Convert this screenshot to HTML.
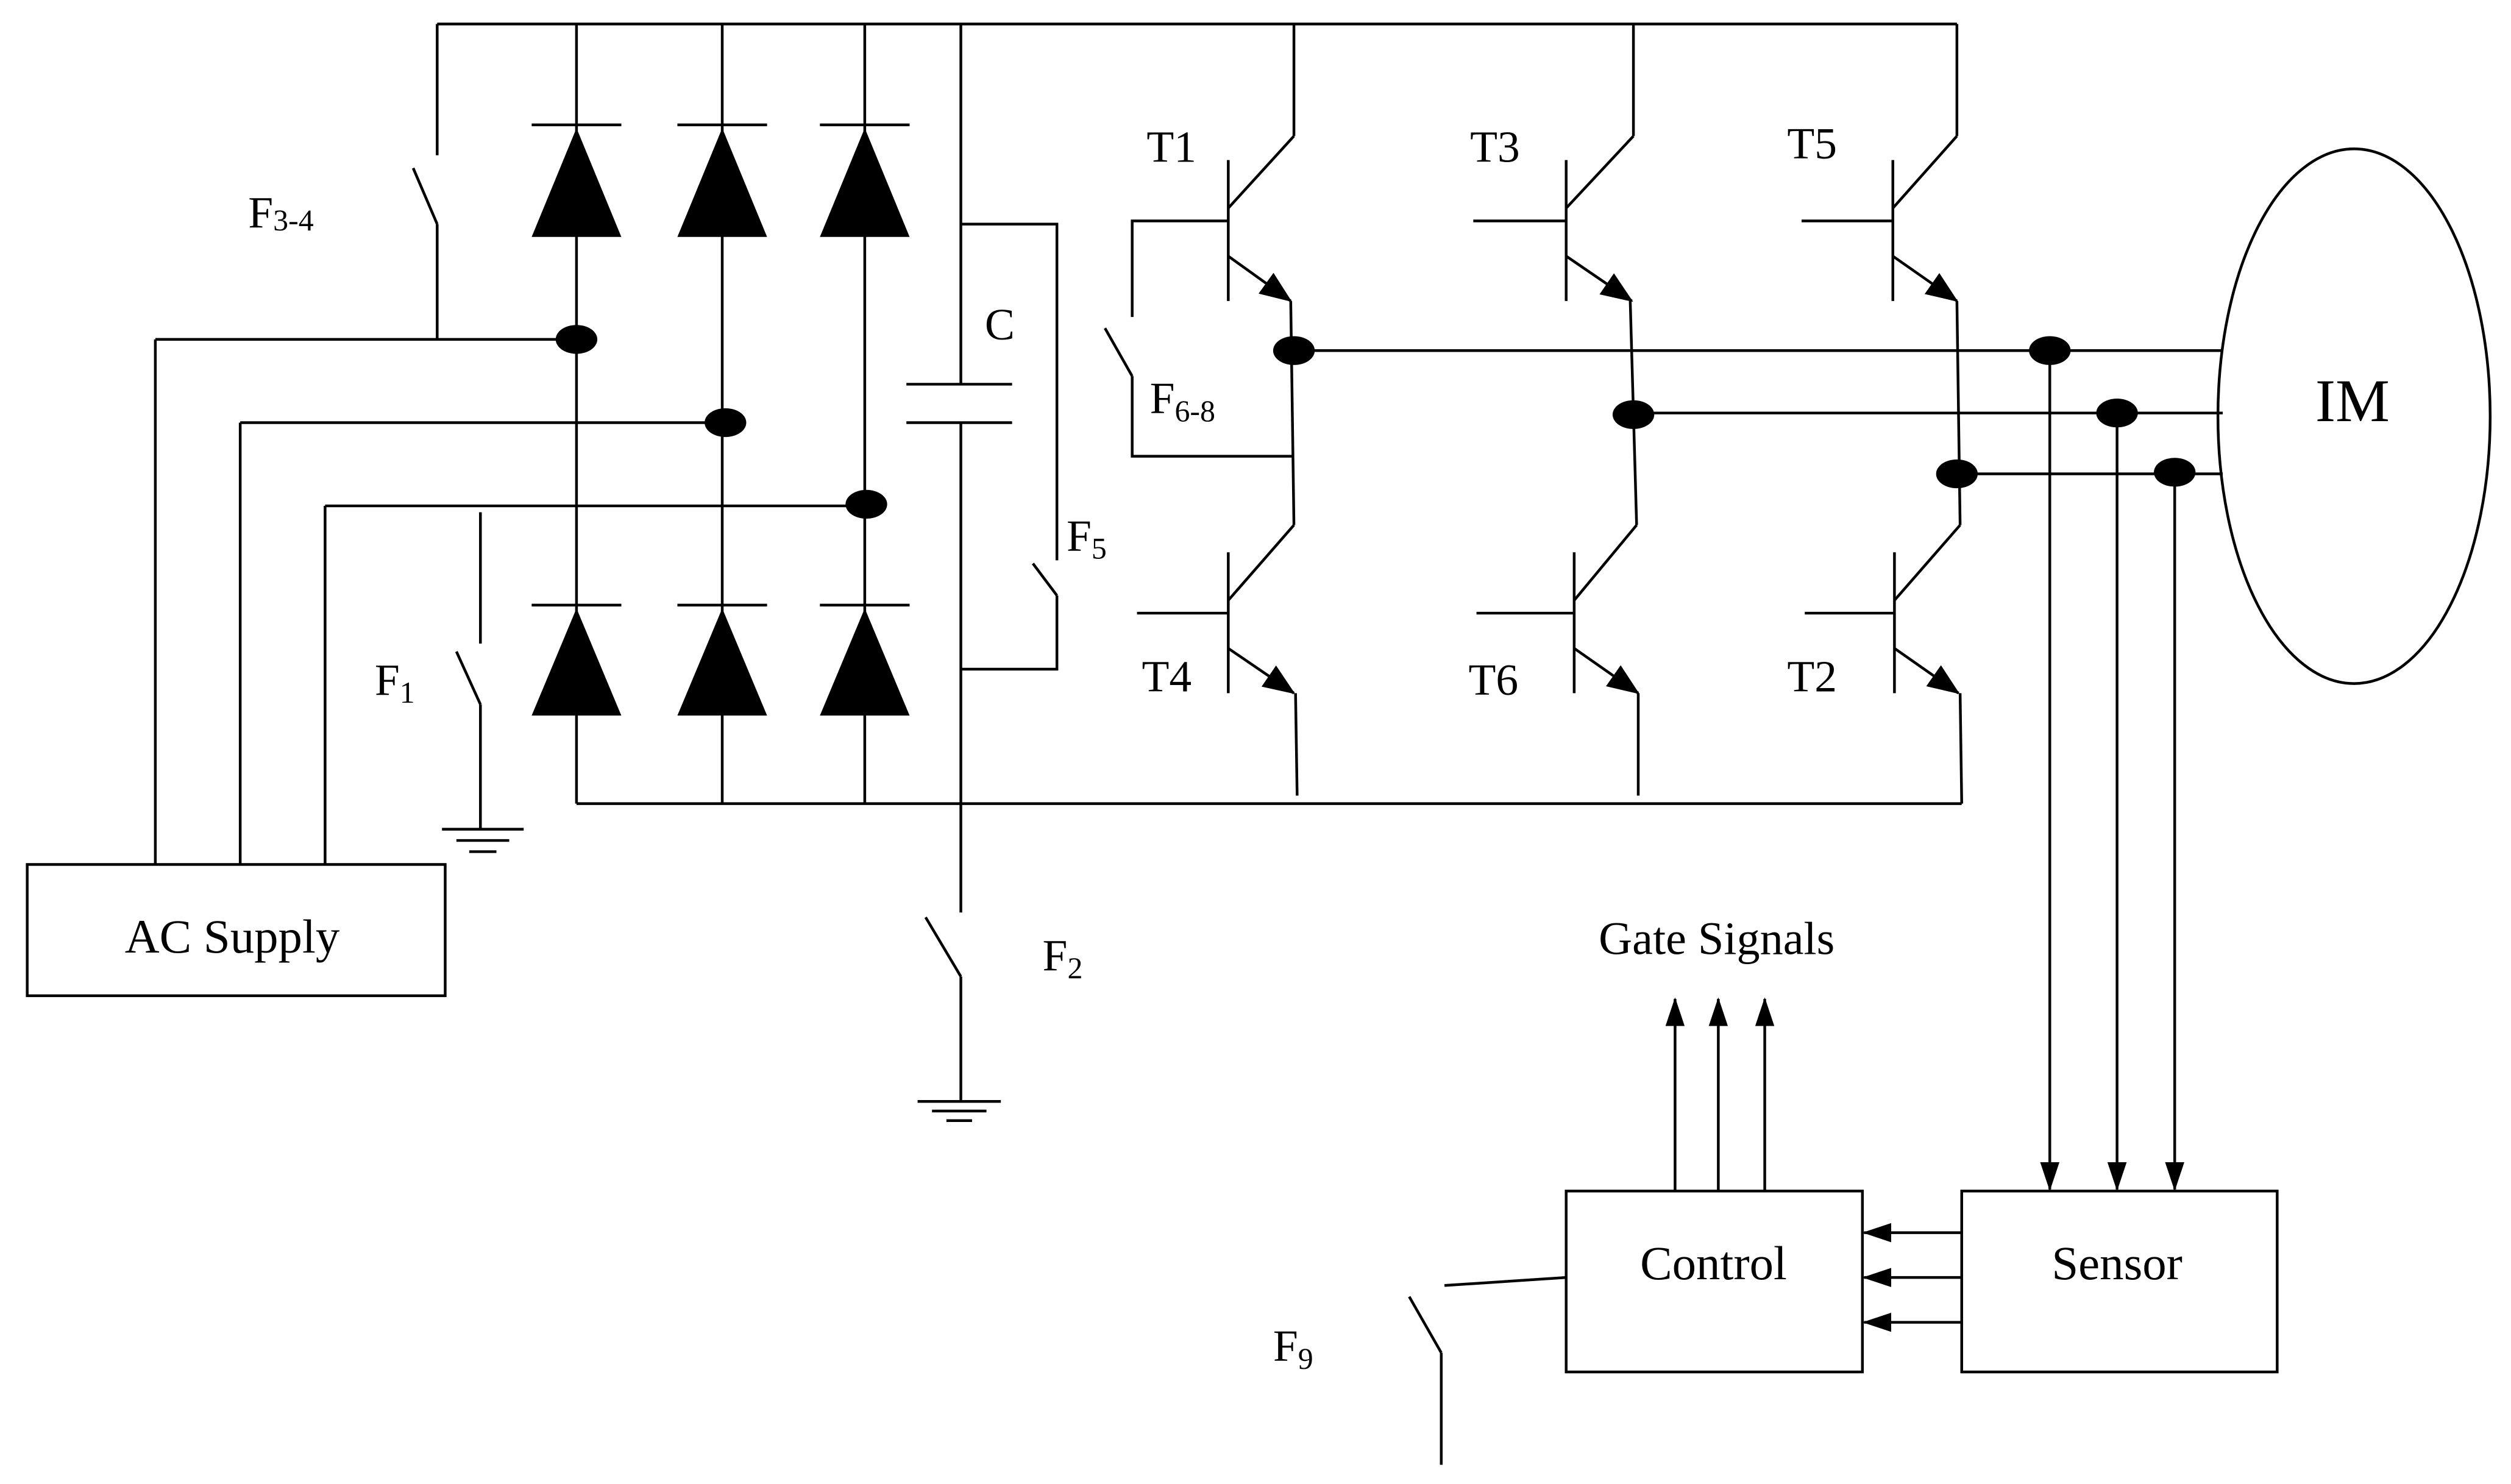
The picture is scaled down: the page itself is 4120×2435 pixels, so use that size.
<!DOCTYPE html>
<html><head><meta charset="utf-8"><style>
html,body{margin:0;padding:0;background:#fff;}
svg{display:block;}
text{font-family:"Liberation Serif",serif;fill:#000;}
</style></head><body>
<svg width="4120" height="2435" viewBox="0 0 1568 927" preserveAspectRatio="none" xmlns="http://www.w3.org/2000/svg">
<defs>
<marker id="ah" viewBox="0 0 18 12" refX="17" refY="6" markerWidth="18" markerHeight="12" orient="auto" markerUnits="userSpaceOnUse">
<path d="M0,0 L18,6 L0,12 z" fill="#000"/></marker>
<marker id="ah2" viewBox="0 0 20 16" refX="19" refY="8" markerWidth="20" markerHeight="16" orient="auto" markerUnits="userSpaceOnUse">
<path d="M0,0 L20,8 L0,16 z" fill="#000"/></marker>
</defs>
<g stroke="#000" stroke-width="1.7" fill="none">
<line x1="273" y1="15" x2="1222" y2="15"/>
<line x1="273" y1="15" x2="273" y2="97"/>
<line x1="258" y1="105" x2="273" y2="140"/>
<line x1="273" y1="140" x2="273" y2="212"/>
<line x1="97" y1="212" x2="360" y2="212"/>
<line x1="97" y1="212" x2="97" y2="540"/>
<line x1="150" y1="264" x2="453" y2="264"/>
<line x1="150" y1="264" x2="150" y2="540"/>
<line x1="203" y1="316" x2="540" y2="316"/>
<line x1="203" y1="316" x2="203" y2="540"/>
<line x1="360" y1="15" x2="360" y2="502"/>
<line x1="451" y1="15" x2="451" y2="502"/>
<line x1="540" y1="15" x2="540" y2="502"/>
<line x1="332" y1="78" x2="388" y2="78"/>
<line x1="423" y1="78" x2="479" y2="78"/>
<line x1="512" y1="78" x2="568" y2="78"/>
<line x1="332" y1="378" x2="388" y2="378"/>
<line x1="423" y1="378" x2="479" y2="378"/>
<line x1="512" y1="378" x2="568" y2="378"/>
<line x1="360" y1="502" x2="1225" y2="502"/>
<line x1="300" y1="320" x2="300" y2="402"/>
<line x1="285" y1="407" x2="300" y2="440"/>
<line x1="300" y1="440" x2="300" y2="518"/>
<line x1="276" y1="518" x2="327" y2="518"/>
<line x1="285" y1="525" x2="318" y2="525"/>
<line x1="293" y1="532" x2="310" y2="532"/>
<line x1="600" y1="15" x2="600" y2="240"/>
<line x1="566" y1="240" x2="632" y2="240"/>
<line x1="566" y1="264" x2="632" y2="264"/>
<line x1="600" y1="264" x2="600" y2="570"/>
<line x1="578" y1="573" x2="600" y2="610"/>
<line x1="600" y1="610" x2="600" y2="688"/>
<line x1="573" y1="688" x2="625" y2="688"/>
<line x1="582" y1="694" x2="616" y2="694"/>
<line x1="591" y1="700" x2="607" y2="700"/>
<polyline points="600,140 660,140 660,350"/>
<line x1="645" y1="352" x2="660" y2="372"/>
<polyline points="660,372 660,418 600,418"/>
<line x1="808" y1="15" x2="808" y2="85"/>
<line x1="808" y1="85" x2="767" y2="130"/>
<line x1="767" y1="100" x2="767" y2="188"/>
<line x1="767" y1="160" x2="806" y2="188" marker-end="url(#ah2)"/>
<line x1="806" y1="188" x2="808" y2="328"/>
<polyline points="767,138 707,138 707,198"/>
<line x1="690" y1="205" x2="707" y2="235"/>
<polyline points="707,235 707,285 808,285"/>
<line x1="808" y1="328" x2="767" y2="375"/>
<line x1="767" y1="345" x2="767" y2="433"/>
<line x1="710" y1="383" x2="767" y2="383"/>
<line x1="767" y1="405" x2="808" y2="433" marker-end="url(#ah2)"/>
<line x1="809" y1="433" x2="810" y2="497"/>
<line x1="1020" y1="15" x2="1020" y2="85"/>
<line x1="1020" y1="85" x2="978" y2="130"/>
<line x1="978" y1="100" x2="978" y2="188"/>
<line x1="920" y1="138" x2="978" y2="138"/>
<line x1="978" y1="160" x2="1019" y2="188" marker-end="url(#ah2)"/>
<line x1="1018" y1="188" x2="1022" y2="328"/>
<line x1="1022" y1="328" x2="983" y2="375"/>
<line x1="983" y1="345" x2="983" y2="433"/>
<line x1="922" y1="383" x2="983" y2="383"/>
<line x1="983" y1="405" x2="1023" y2="433" marker-end="url(#ah2)"/>
<line x1="1023" y1="433" x2="1023" y2="497"/>
<line x1="1222" y1="15" x2="1222" y2="85"/>
<line x1="1222" y1="85" x2="1182" y2="130"/>
<line x1="1182" y1="100" x2="1182" y2="188"/>
<line x1="1125" y1="138" x2="1182" y2="138"/>
<line x1="1182" y1="160" x2="1222" y2="188" marker-end="url(#ah2)"/>
<line x1="1222" y1="188" x2="1224" y2="328"/>
<line x1="1224" y1="328" x2="1183" y2="375"/>
<line x1="1183" y1="345" x2="1183" y2="433"/>
<line x1="1127" y1="383" x2="1183" y2="383"/>
<line x1="1183" y1="405" x2="1223" y2="433" marker-end="url(#ah2)"/>
<line x1="1224" y1="433" x2="1225" y2="502"/>
<line x1="808" y1="219" x2="1388" y2="219"/>
<line x1="1020" y1="258" x2="1388" y2="258"/>
<line x1="1222" y1="296" x2="1388" y2="296"/>
<line x1="1280" y1="219" x2="1280" y2="743" marker-end="url(#ah)"/>
<line x1="1322" y1="258" x2="1322" y2="743" marker-end="url(#ah)"/>
<line x1="1358" y1="296" x2="1358" y2="743" marker-end="url(#ah)"/>
<ellipse cx="1470" cy="260" rx="85" ry="167"/>
<rect x="17" y="540" width="261" height="82"/>
<rect x="978" y="744" width="185" height="113"/>
<rect x="1225" y="744" width="197" height="113"/>
<line x1="1225" y1="770" x2="1164" y2="770" marker-end="url(#ah)"/>
<line x1="1225" y1="798" x2="1164" y2="798" marker-end="url(#ah)"/>
<line x1="1225" y1="826" x2="1164" y2="826" marker-end="url(#ah)"/>
<line x1="1046" y1="744" x2="1046" y2="624" marker-end="url(#ah)"/>
<line x1="1073" y1="744" x2="1073" y2="624" marker-end="url(#ah)"/>
<line x1="1102" y1="744" x2="1102" y2="624" marker-end="url(#ah)"/>
<line x1="902" y1="803" x2="978" y2="798"/>
<line x1="880" y1="810" x2="900" y2="845"/>
<line x1="900" y1="845" x2="900" y2="915"/>
</g>
<g fill="#000">
<polygon points="332,148 388,148 360,80"/>
<polygon points="423,148 479,148 451,80"/>
<polygon points="512,148 568,148 540,80"/>
<polygon points="332,447 388,447 360,380"/>
<polygon points="423,447 479,447 451,380"/>
<polygon points="512,447 568,447 540,380"/>
<ellipse cx="360" cy="212" rx="13" ry="9"/>
<ellipse cx="453" cy="264" rx="13" ry="9"/>
<ellipse cx="541" cy="315" rx="13" ry="9"/>
<ellipse cx="808" cy="219" rx="13" ry="9"/>
<ellipse cx="1020" cy="259" rx="13" ry="9"/>
<ellipse cx="1222" cy="296" rx="13" ry="9"/>
<ellipse cx="1280" cy="219" rx="13" ry="9"/>
<ellipse cx="1322" cy="258" rx="13" ry="9"/>
<ellipse cx="1358" cy="295" rx="13" ry="9"/>
</g>
<g font-size="28">
<text x="155" y="142">F<tspan font-size="19" dy="2">3-4</tspan></text>
<text x="234" y="434">F<tspan font-size="19" dy="5">1</tspan></text>
<text x="615" y="212">C</text>
<text x="666" y="344">F<tspan font-size="19" dy="5">5</tspan></text>
<text x="651" y="606">F<tspan font-size="19" dy="5">2</tspan></text>
<text x="718" y="258">F<tspan font-size="19" dy="5">6-8</tspan></text>
<text x="795" y="850">F<tspan font-size="19" dy="5">9</tspan></text>
<text x="716" y="101">T1</text>
<text x="918" y="101">T3</text>
<text x="1116" y="99">T5</text>
<text x="713" y="432">T4</text>
<text x="917" y="434">T6</text>
<text x="1116" y="432">T2</text>
<text x="145" y="595" text-anchor="middle" font-size="30">AC Supply</text>
<text x="1070" y="799" text-anchor="middle" font-size="30">Control</text>
<text x="1322" y="799" text-anchor="middle" font-size="30">Sensor</text>
<text x="1072" y="596" text-anchor="middle" font-size="29">Gate Signals</text>
<text x="1469" y="263" text-anchor="middle" font-size="38">IM</text>
</g>
</svg>
</body></html>
